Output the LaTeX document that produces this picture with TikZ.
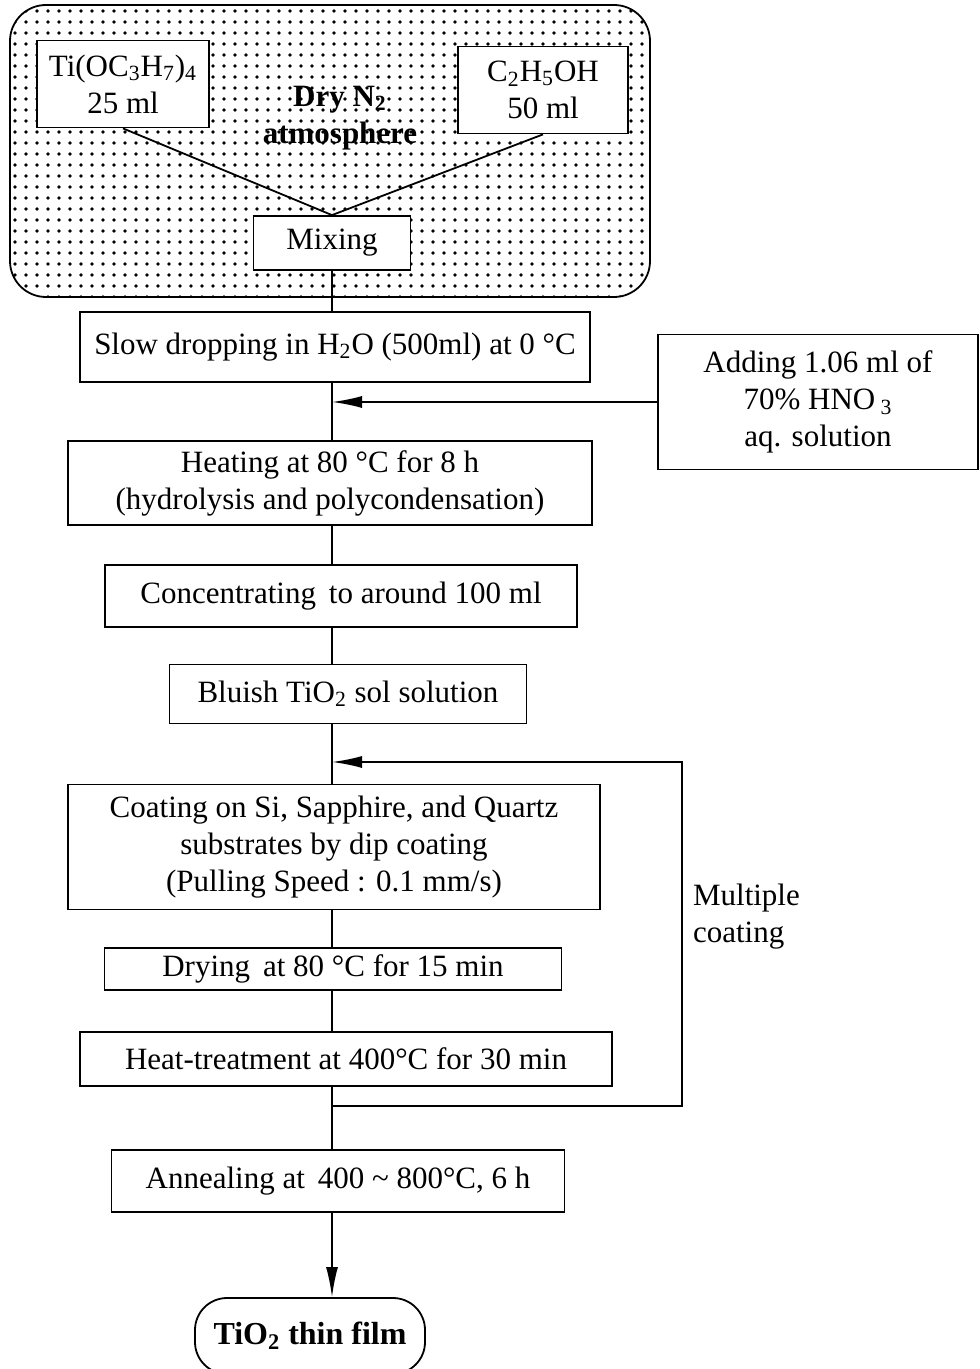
\documentclass[tikz,border=0pt]{standalone}
\usepackage{fontspec}
\setmainfont{Liberation Serif}
\usetikzlibrary{arrows.meta}

\tikzset{
  stepbox/.style={draw, line width=0.9pt, fill=white, align=center, inner sep=2pt,
    font=\fontsize{15.5}{18.5}\selectfont},
  link/.style={line width=0.9pt},
  feed/.style={line width=0.9pt, -{Latex[length=15pt,width=6pt]}}
}

\begin{document}
\begin{tikzpicture}[x=0.5pt,y=-0.5pt]
\useasboundingbox (0,0) rectangle (979,1369);

% dry N2 glove box
\begin{scope}
  \path[clip, rounded corners=18pt] (10,5) rectangle (650,297);
  \foreach \i in {0,...,58}
    \foreach \j in {0,...,26}
      \fill (15+\i*11, 11+\j*11) circle (0.9pt);
\end{scope}
\draw[link, rounded corners=18pt] (10,5) rectangle (650,297);

\node[stepbox, minimum width=86pt, minimum height=43.5pt] (ti) at (123,84)
  {Ti(OC\textsubscript{3}H\textsubscript{7})\textsubscript{4}\\25 ml};
\node[stepbox, minimum width=85pt, minimum height=43.5pt] (eth) at (543,90)
  {C\textsubscript{2}H\textsubscript{5}OH\\50 ml};
\node[align=center, font=\fontsize{15.5}{18.5}\selectfont\bfseries] (gas) at (340,118)
  {Dry N\textsubscript{2}\\atmosphere};
\node[stepbox, minimum width=78.5pt, minimum height=27pt] (mix) at (332,243) {Mixing};

\draw[link] (ti.south) -- (mix.north);
\draw[link] (eth.south) -- (mix.north);

% main route
\coordinate (spine) at (332,0);
\node[stepbox, minimum width=255pt, minimum height=35pt] (drop) at (335,347)
  {Slow dropping in H\textsubscript{2}O (500ml) at 0 °C};
\node[stepbox, minimum width=160pt, minimum height=67.5pt] (add) at (818,402)
  {Adding 1.06 ml of\\70\% HNO\,\textsubscript{3}\\aq. solution};
\node[stepbox, minimum width=262pt, minimum height=42pt] (heat) at (330,483)
  {Heating at 80 °C for 8 h\\(hydrolysis and polycondensation)};
\node[stepbox, minimum width=236pt, minimum height=31pt] (conc) at (341,596)
  {Concentrating\, to around 100 ml};
\node[stepbox, minimum width=178.5pt, minimum height=29.5pt] (sol) at (348,694)
  {Bluish TiO\textsubscript{2} sol solution};
\node[stepbox, minimum width=266pt, minimum height=62.5pt] (coat) at (334,847)
  {Coating on Si, Sapphire, and Quartz\\substrates by dip coating\\(Pulling Speed : 0.1 mm/s)};
\node[stepbox, minimum width=228.5pt, minimum height=21pt] (dry) at (333,969)
  {Drying\, at 80 °C for 15 min};
\node[stepbox, minimum width=266pt, minimum height=27pt] (ht) at (346,1059)
  {Heat-treatment at 400°C for 30 min};
\node[stepbox, minimum width=226.5pt, minimum height=31pt] (ann) at (338,1181)
  {Annealing at\, 400 \textasciitilde{} 800°C, 6 h};
\node[stepbox, rounded corners=16pt, minimum width=115pt, minimum height=38pt,
  font=\fontsize{16}{19}\selectfont\bfseries] (film) at (310,1336)
  {TiO\textsubscript{2} thin film};

\draw[link] (mix.south) -- (spine |- drop.north);
\draw[link] (spine |- drop.south) -- (spine |- heat.north);
\draw[feed] (add.west) -- (spine |- add.west);
\draw[link] (spine |- heat.south) -- (spine |- conc.north);
\draw[link] (spine |- conc.south) -- (spine |- sol.north);
\draw[link] (spine |- sol.south) -- (spine |- coat.north);
\draw[link] (spine |- coat.south) -- (spine |- dry.north);
\draw[link] (spine |- dry.south) -- (spine |- ht.north);
\draw[link] (spine |- ht.south) -- (spine |- ann.north);
\draw[feed] (spine |- ann.south) -- (spine |- film.north);

% repeated coating
\coordinate (lb) at (332,1106);
\coordinate (rb) at (682,1106);
\coordinate (rt) at (682,762);
\coordinate (lt) at (332,762);
\draw[feed] (lb) -- (rb) -- (rt) -- (lt);
\node[anchor=west, align=left, font=\fontsize{15.5}{18.5}\selectfont] (multi) at (686,917)
  {Multiple\\coating};

\end{tikzpicture}
\end{document}
